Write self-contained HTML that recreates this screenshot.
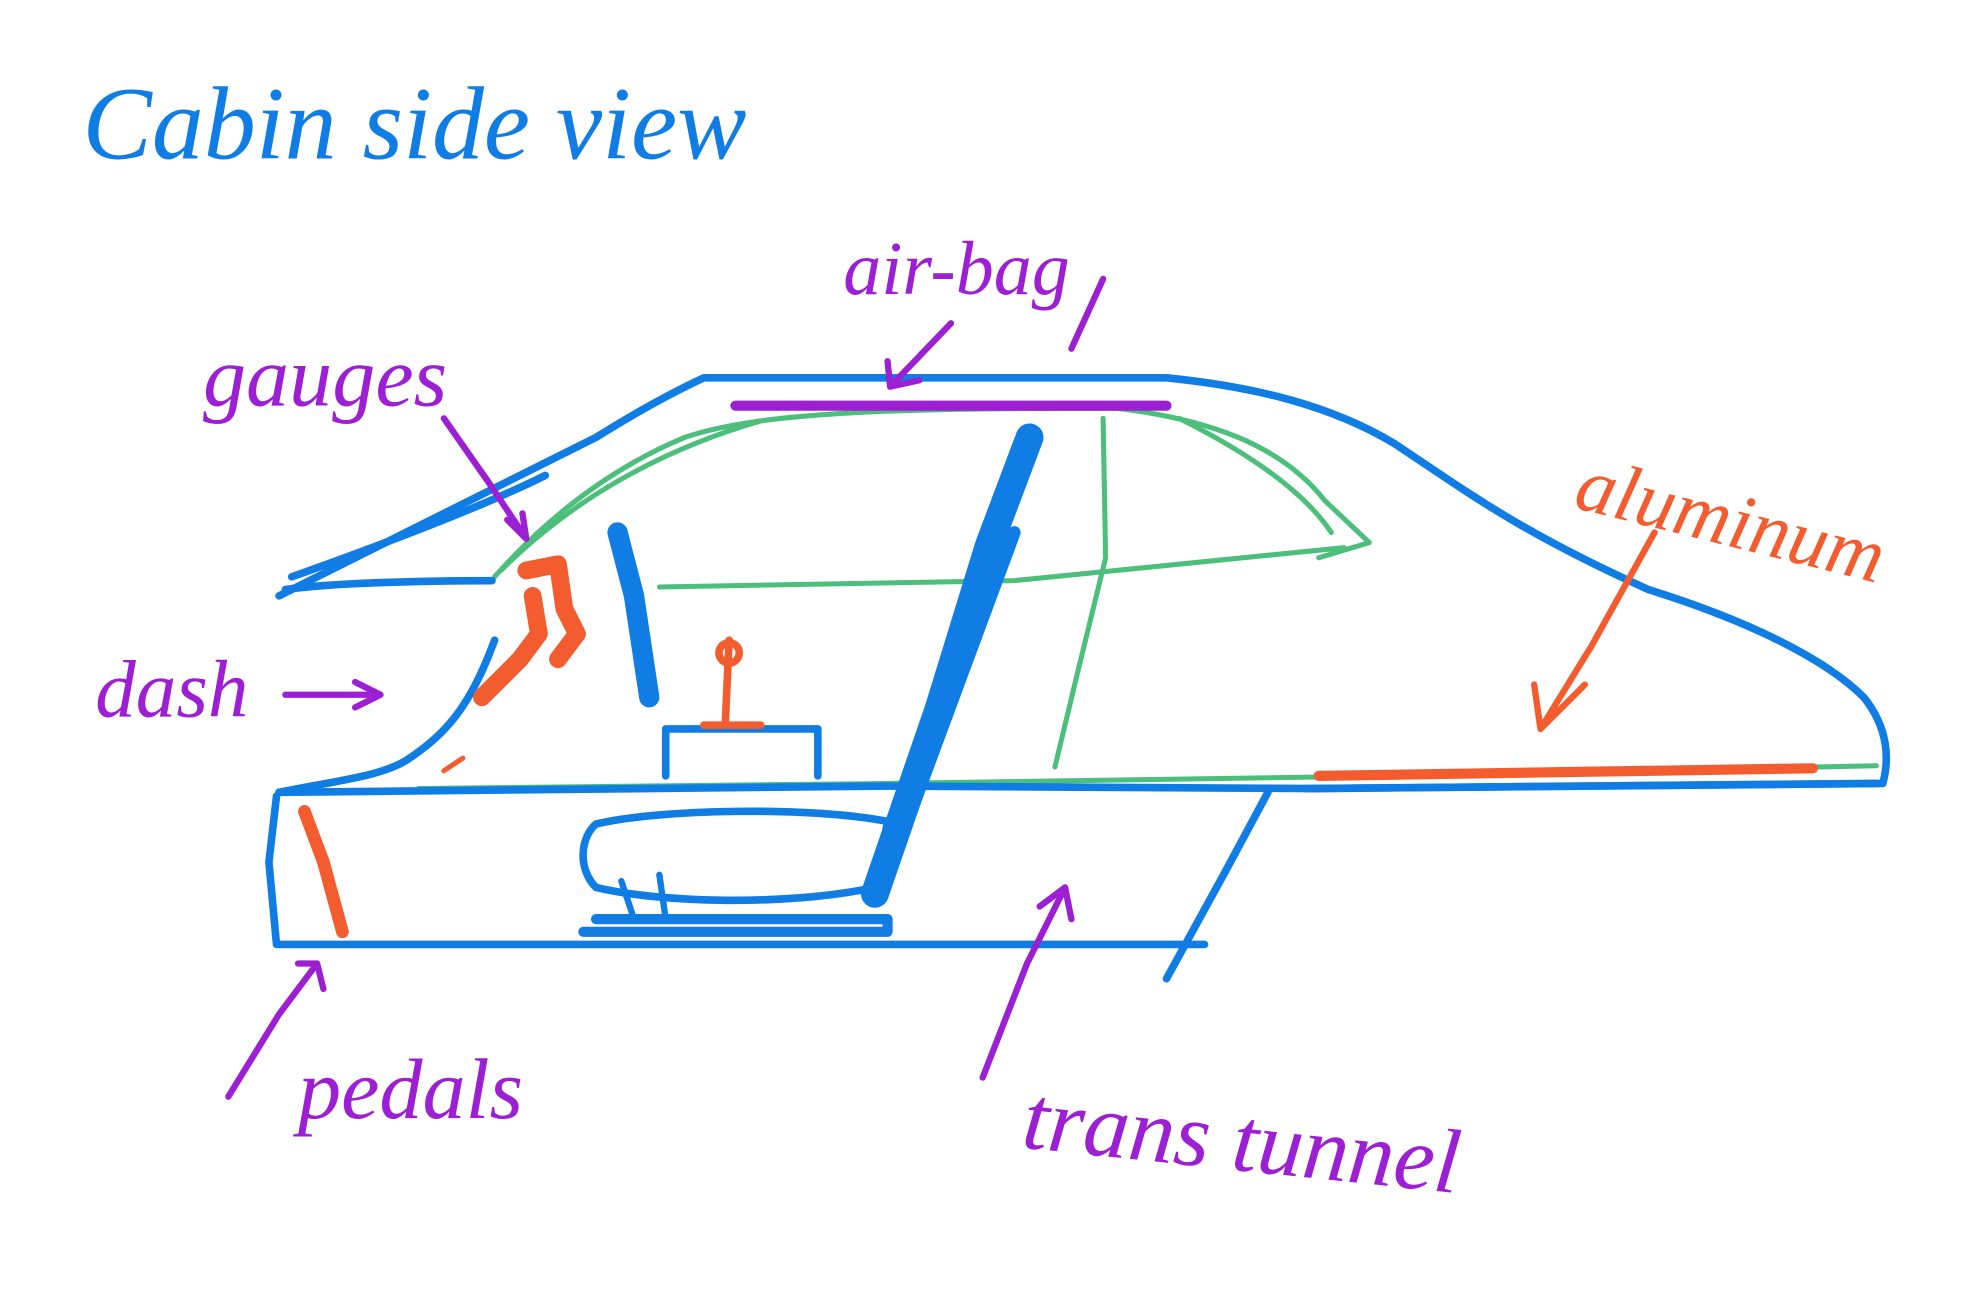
<!DOCTYPE html>
<html><head><meta charset="utf-8"><style>
html,body{margin:0;padding:0;background:#fff;}
svg{display:block;}
text{font-family:"Liberation Serif",serif;font-style:italic;}
</style></head><body>
<svg width="1978" height="1302" viewBox="0 0 1560 1027" xmlns="http://www.w3.org/2000/svg">
<rect width="1560" height="1027" fill="#fff"/>
<g fill="none" stroke-linecap="round" stroke-linejoin="round">
<!-- green interior lines -->
<g stroke="#4cbf7c" stroke-width="4">
<path d="M390,455 C430,410 480,370 540,345 C600,325 700,322 880,322 C950,330 1010,350 1045,395 L1080,428 L1040,440"/>
<path d="M395,450 C450,395 520,355 600,332"/>
<path d="M520,463 L800,458 L1060,432"/>
<path d="M870,330 L872,440 L850,530 L832,605"/>
<path d="M330,622 L700,618 L1100,612 L1480,604"/>
<path d="M930,330 C990,360 1030,390 1050,420"/>
</g>
<!-- blue body -->
<g stroke="#0f7de3" stroke-width="6">
<path d="M220,470 C300,430 400,380 470,345 C510,320 540,305 555,298 L920,298 C990,305 1050,320 1100,350 C1160,390 1200,420 1300,465 C1380,490 1440,520 1470,550 C1490,575 1490,600 1485,618 L1040,622 L700,620 L220,625"/>
<path d="M225,465 C260,460 330,458 388,458"/>
<path d="M230,455 C300,430 380,400 430,375"/>
<path d="M220,625 C270,615 300,612 320,600 C350,580 370,560 390,505"/>
<path d="M218,628 L212,680 L218,745 L950,745"/>
<path d="M1000,625 L965,690 L920,772"/>
<path d="M1030,622 L1480,618"/>
</g>
<!-- seat back -->
<path d="M690,705 L740,560 L780,430 L812,345" stroke="#0f7de3" stroke-width="22"/>
<path d="M700,690 L800,420" stroke="#0f7de3" stroke-width="10"/>
<!-- seat cushion -->
<path d="M470,650 C520,638 640,636 700,648 L690,700 C620,715 520,712 470,700 C455,685 458,660 470,650 Z" stroke="#0f7de3" stroke-width="6"/>
<path d="M460,735 L700,735 L700,725 L470,725" stroke="#0f7de3" stroke-width="8"/>
<path d="M490,695 L500,725 M520,690 L525,725" stroke="#0f7de3" stroke-width="5"/>
<!-- steering column -->
<path d="M487,420 L500,470 L512,550" stroke="#0f7de3" stroke-width="16"/>
<!-- console -->
<path d="M525,612 L525,575 L645,575 L645,612" stroke="#0f7de3" stroke-width="6"/>
<!-- orange -->
<g stroke="#f25c2e">
<path d="M415,450 L440,445 L445,480 L455,500 L440,520 M420,470 L425,500 L410,520 L380,550" stroke-width="14"/>
<path d="M575,505 L572,570 M555,572 L600,572" stroke-width="6"/>
<circle cx="575" cy="515" r="8" stroke-width="6"/>
<path d="M240,640 L255,680 L270,735" stroke-width="10"/>
<path d="M1040,612 L1430,606" stroke-width="8"/>
<path d="M350,608 L365,598" stroke-width="4"/>
<path d="M1305,420 L1255,510 L1215,575 M1210,540 L1215,575 L1250,540" stroke-width="5"/>
</g>
<!-- purple -->
<g stroke="#9c1fd3" stroke-width="5">
<path d="M580,320 L920,320" stroke-width="8"/>
<path d="M350,330 L385,380 L415,425 M400,410 L415,425 L412,405"/>
<path d="M225,548 L300,548 M280,538 L300,548 L280,558"/>
<path d="M750,255 L702,305 M700,285 L702,305 L725,300"/>
<path d="M180,865 L220,800 L250,760 M235,760 L250,760 L255,780"/>
<path d="M775,850 L810,760 L840,700 M820,715 L840,700 L845,725"/>
<path d="M845,275 L870,220"/>
</g>
</g>
<text x="65" y="125" font-size="82" fill="#0f7de3">Cabin side view</text>
<text x="160" y="320" font-size="68" fill="#9c1fd3">gauges</text>
<text x="665" y="232" font-size="60" fill="#9c1fd3">air-bag</text>
<text x="75" y="565" font-size="64" fill="#9c1fd3">dash</text>
<text x="235" y="882" font-size="68" fill="#9c1fd3">pedals</text>
<text x="805" y="905" font-size="72" fill="#9c1fd3" transform="rotate(6 805 905)">trans tunnel</text>
<text x="1240" y="400" font-size="62" fill="#f25c2e" transform="rotate(14 1240 400)">aluminum</text>
</svg>
</body></html>
